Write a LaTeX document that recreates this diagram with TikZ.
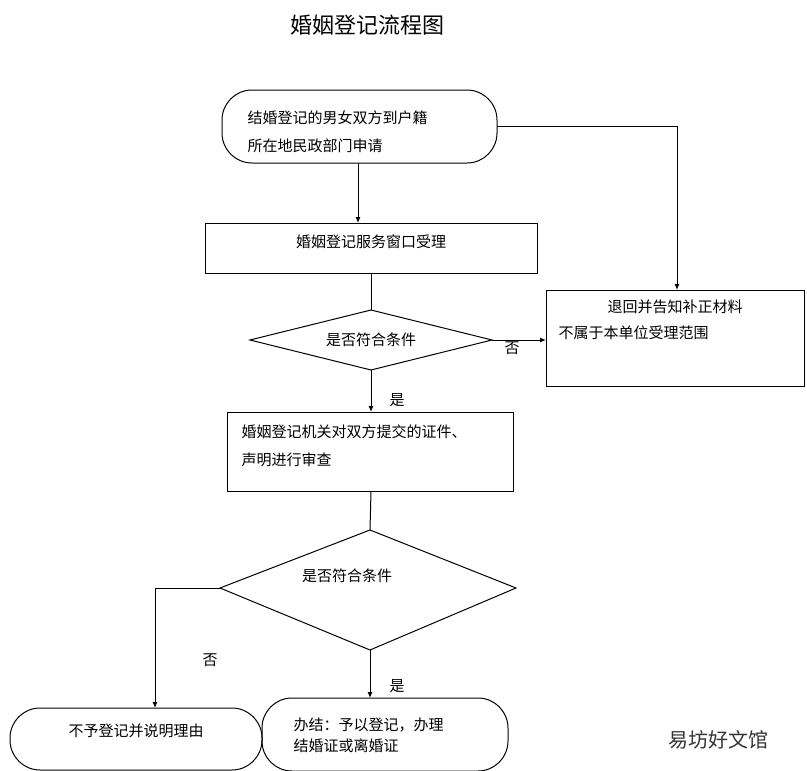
\documentclass[tikz,border=0pt]{standalone}
\usepackage{fontspec}
\setmainfont{Noto Sans CJK SC}
\usetikzlibrary{arrows.meta,shapes.geometric}
\begin{document}
\begin{tikzpicture}[x=1pt,y=-1pt,
  box/.style={draw,line width=1pt,inner sep=0},
  stad/.style={draw,line width=1pt,rounded corners=30pt},
  ln/.style={line width=1pt},
  ar/.style={line width=1pt,-{Latex[length=6pt,width=5pt]}},
  t/.style={font=\fontsize{15}{18}\selectfont,align=left}]
\useasboundingbox (0,0) rectangle (807,771);
\node[font=\fontsize{22}{26}\selectfont] (title) at (367,25) {婚姻登记流程图};
% stadium 1
\draw[stad] (222,90) rectangle (497,163);
\coordinate (s1b) at (358,163); \coordinate (s1r) at (497,126);
\node[t,anchor=west] (s1t) at (244,118) {结婚登记的男女双方到户籍};
\node[t,anchor=west] (s1u) at (244,146) {所在地民政部门申请};
% rect 2
\node[box,minimum width=332pt,minimum height=50pt] (r2) at (371,248) {};
\node[t] (r2t) at (371,242) {婚姻登记服务窗口受理};
\coordinate (r2top) at (358,223);
\draw[ar] (s1b) -- (r2top);
% diamond 1
\draw[ln] (250,340) -- (371,310) -- (492,340) -- (371,370) -- cycle;
\coordinate (d1t) at (371,310); \coordinate (d1b) at (371,370); \coordinate (d1r) at (492,340);
\node[t] (d1text) at (371,340) {是否符合条件};
\draw[ln] (371,273) -- (d1t);
% rect 3
\draw[ln] (546,290) rectangle (804,386);
\coordinate (r3l) at (546,340); \coordinate (r3t) at (677,290);
\node[t] (r3a) at (675,307) {退回并告知补正材料};
\node[t,anchor=west] (r3b) at (555,333) {不属于本单位受理范围};
\draw[ar] (d1r) -- (r3l);
\node[t] (no1) at (512,348) {否};
\draw[ar] (s1r) -| (r3t);
% rect 4
\draw[ln] (227,412) rectangle (513,491);
\coordinate (r4t) at (371,412); \coordinate (r4b) at (371,491);
\node[t,anchor=west] (r4a) at (238,432) {婚姻登记机关对双方提交的证件、};
\node[t,anchor=west] (r4b2) at (238,460) {声明进行审查};
\draw[ar] (d1b) -- (r4t);
\node[t] (yes1) at (397,400) {是};
% diamond 2
\draw[ln] (220,588) -- (370,530) -- (516,588) -- (370,650) -- cycle;
\coordinate (d2t) at (370,530); \coordinate (d2b) at (370,650); \coordinate (d2l) at (220,588);
\node[t] (d2text) at (347,576) {是否符合条件};
\draw[ln] (r4b) -- (d2t);
% bottom stadiums
\draw[stad] (10,708) rectangle (262,770);
\node[t] (s2t) at (136,731) {不予登记并说明理由};
\coordinate (s2t0) at (155,708);
\draw[stad] (262,698) rectangle (508,771);
\coordinate (s3t) at (370,698);
\node[t,anchor=west] (s3a) at (290,725) {办结：予以登记，办理};
\node[t,anchor=west] (s3b) at (290,746) {结婚证或离婚证};
\draw[ar] (d2l) -| (s2t0);
\node[t] (no2) at (210,660) {否};
\draw[ar] (d2b) -- (s3t);
\node[t] (yes2) at (397,686) {是};
\node[font=\fontsize{20}{22}\selectfont,text=black!80] (wm) at (718,740) {易坊好文馆};
\end{tikzpicture}
\end{document}
